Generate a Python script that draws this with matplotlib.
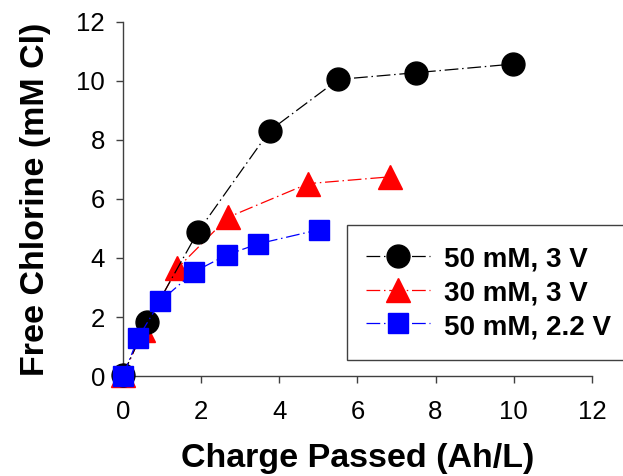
import matplotlib
matplotlib.use('Agg')
import matplotlib.pyplot as plt

plt.rcParams['font.family'] = ['Liberation Sans', 'DejaVu Sans']

# 50 mM, 3 V
x_50_3 = [0.0, 0.62, 1.91, 3.76, 5.51, 7.51, 9.98]
y_50_3 = [0.05, 1.82, 4.87, 8.32, 10.05, 10.28, 10.57]
# 30 mM, 3 V
x_30_3 = [0.0, 0.52, 1.39, 2.69, 4.74, 6.83]
y_30_3 = [0.03, 1.55, 3.65, 5.38, 6.52, 6.75]
# 50 mM, 2.2 V
x_50_22 = [0.0, 0.39, 0.95, 1.82, 2.65, 3.46, 5.02]
y_50_22 = [0.0, 1.3, 2.53, 3.53, 4.1, 4.48, 4.96]

labels = ['50 mM, 3 V', '30 mM, 3 V', '50 mM, 2.2 V']

fig = plt.figure(figsize=(6.23, 4.76), dpi=100)
ax = fig.add_axes([0.1974, 0.21, 0.7526, 0.744])

dash = (0, (11, 3, 1.2, 3))
ax.plot(x_50_3, y_50_3, color='black', linestyle=dash, lw=0.9, marker='o',
        markersize=16.5, label=labels[0], zorder=3, clip_on=False)
ax.plot(x_30_3, y_30_3, color='red', linestyle=dash, lw=0.9, marker='^',
        markersize=17, label=labels[1], zorder=2, clip_on=False)
ax.plot(x_50_22, y_50_22, color='blue', linestyle=dash, lw=0.9, marker='s',
        markersize=14, label=labels[2], zorder=4, clip_on=False)

ax.set_xlim(0, 12)
ax.set_ylim(0, 12)
ax.set_xticks(range(0, 13, 2))
ax.set_yticks(range(0, 13, 2))
for s in ['top', 'right']:
    ax.spines[s].set_visible(False)
for s in ['left', 'bottom']:
    ax.spines[s].set_color('#404040')
    ax.spines[s].set_linewidth(1)
ax.tick_params(direction='out', length=5, width=1, color='#404040',
               labelsize=18.5)
ax.tick_params(axis='x', pad=12)
ax.tick_params(axis='y', pad=8)

ax.set_xlabel('Charge Passed (Ah/L)', fontsize=24.5, fontweight='bold', labelpad=14)
ax.set_ylabel('Free Chlorine (mM Cl)', fontsize=24.5, fontweight='bold', labelpad=18)

leg = fig.legend(loc='upper left', bbox_to_anchor=(347 / 623, 1 - 225 / 476),
                 borderaxespad=0, fancybox=False, framealpha=1,
                 prop={'weight': 'bold', 'size': 20}, handlelength=2.3,
                 handleheight=1.05, labelspacing=0.2, borderpad=0.7,
                 handletextpad=0.5)
leg.get_frame().set_edgecolor('#404040')
leg.get_frame().set_linewidth(1)

fig.savefig('out.png', dpi=100)
